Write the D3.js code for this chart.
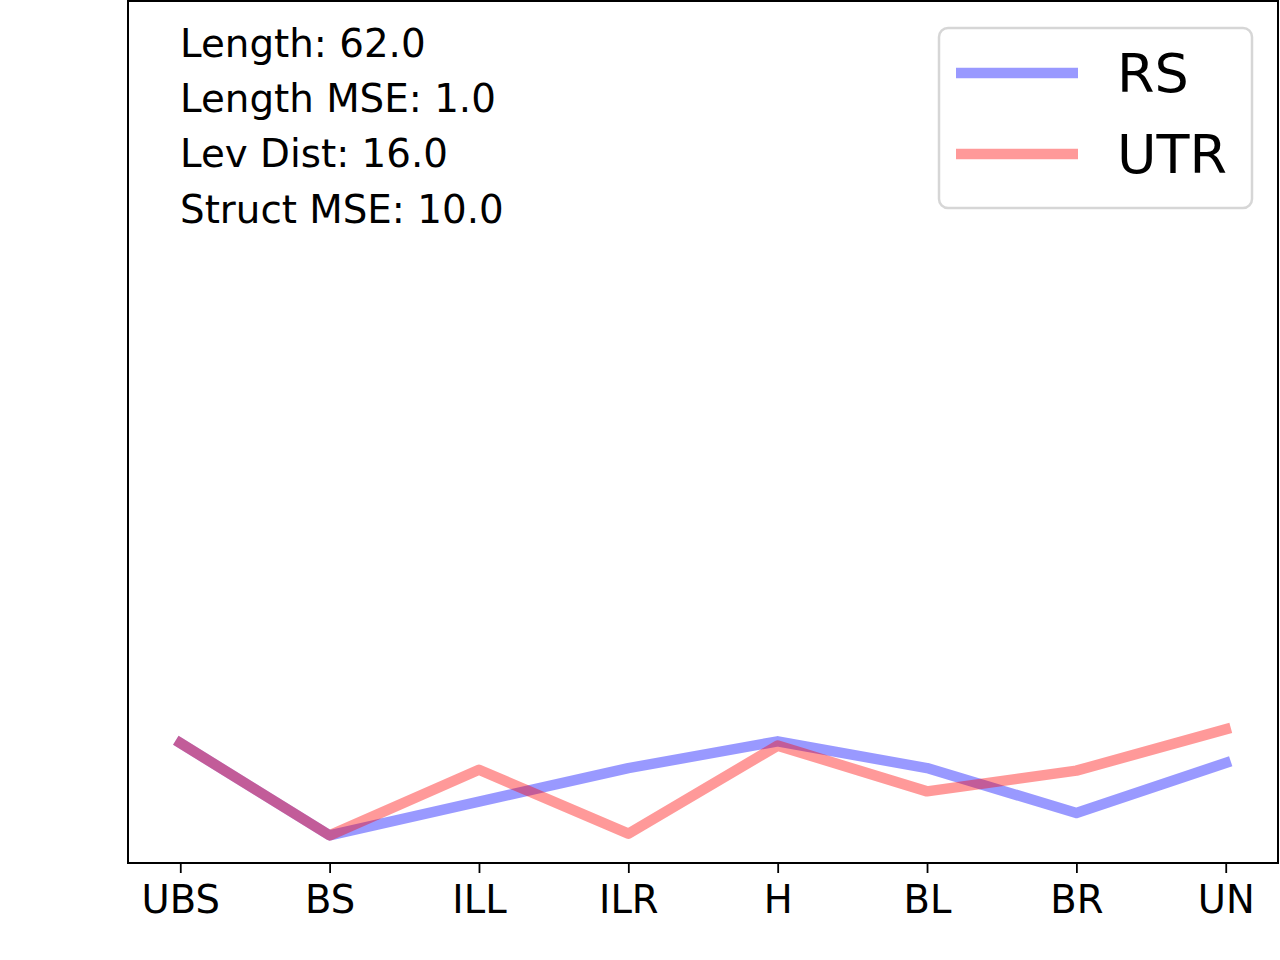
<!DOCTYPE html>
<html>
<head>
<meta charset="utf-8" />
<script src="https://cdn.jsdelivr.net/npm/d3@7/dist/d3.min.js"></script>
<style>
  body { margin: 0; background: #fff; }
  text { font-family: "DejaVu Sans", sans-serif; fill: #000; }
</style>
</head>
<body>
<script>
var categories = ["UBS", "BS", "ILL", "ILR", "H", "BL", "BR", "UN"];
var rsValues  = [0.139, 0.032, 0.071, 0.110, 0.141, 0.110, 0.058, 0.116];
var utrValues = [0.139, 0.032, 0.108, 0.034, 0.136, 0.083, 0.107, 0.155];
var seriesNames = ["RS", "UTR"];
var seriesColors = ["#0000ff", "#ff0000"];
var infoLines = ["Length: 62.0", "Length MSE: 1.0", "Lev Dist: 16.0", "Struct MSE: 10.0"];

var w = 1280, h = 960;
// plot box (window.top is reserved, so use other names)
var plotL = 128, plotR = 1278, plotT = 0, plotB = 863;

var svg = d3.select("body").append("svg")
  .attr("width", w)
  .attr("height", h);

// matplotlib style 5% margins on the categorical x axis
var x = d3.scaleLinear()
  .domain([-0.35, categories.length - 1 + 0.35])
  .range([plotL, plotR]);

var y = d3.scaleLinear()
  .domain([0, 1])
  .range([plotB, plotT]);

var line = d3.line()
  .x(function(d, i) { return x(i); })
  .y(function(d) { return y(d); });

[rsValues, utrValues].forEach(function(vals, k) {
  svg.append("path")
    .datum(vals)
    .attr("d", line)
    .attr("fill", "none")
    .attr("stroke", seriesColors[k])
    .attr("stroke-opacity", 0.4)
    .attr("stroke-width", 10.5)
    .attr("stroke-linecap", "square")
    .attr("stroke-linejoin", "round");
});

// x axis
var xAxis = d3.axisBottom(x)
  .tickValues(d3.range(categories.length))
  .tickFormat(function(i) { return categories[i]; })
  .tickSize(10)
  .tickPadding(11)
  .tickSizeOuter(0);

var gx = svg.append("g")
  .attr("transform", "translate(0," + plotB + ")")
  .call(xAxis);
gx.select(".domain").remove();
gx.selectAll(".tick line").attr("stroke", "#000").attr("stroke-width", 1.8);
gx.selectAll(".tick text")
  .attr("font-size", 38.5)
  .attr("font-family", "DejaVu Sans")
  .attr("dy", "0.76em");

// frame
svg.append("rect")
  .attr("x", plotL)
  .attr("y", plotT + 1)
  .attr("width", plotR - plotL)
  .attr("height", plotB - plotT - 1)
  .attr("fill", "none")
  .attr("stroke", "#000")
  .attr("stroke-width", 2);

// info text
svg.selectAll("text.info")
  .data(infoLines)
  .enter()
  .append("text")
  .attr("class", "info")
  .attr("x", 180)
  .attr("y", function(d, i) { return 57 + i * 55.2; })
  .attr("font-size", 38.8)
  .text(function(d) { return d; });

// legend
var lg = svg.append("g");
lg.append("rect")
  .attr("x", 939)
  .attr("y", 28)
  .attr("width", 313)
  .attr("height", 180)
  .attr("rx", 9)
  .attr("fill", "#fff")
  .attr("fill-opacity", 0.8)
  .attr("stroke", "#cccccc")
  .attr("stroke-opacity", 0.8)
  .attr("stroke-width", 2.5);

seriesNames.forEach(function(name, k) {
  var ly = 73 + k * 81;
  lg.append("line")
    .attr("x1", 956)
    .attr("x2", 1078)
    .attr("y1", ly)
    .attr("y2", ly)
    .attr("stroke", seriesColors[k])
    .attr("stroke-opacity", 0.4)
    .attr("stroke-width", 10.5);
  lg.append("text")
    .attr("x", 1117)
    .attr("y", ly + 19)
    .attr("font-size", 54)
    .text(name);
});
</script>
</body>
</html>
